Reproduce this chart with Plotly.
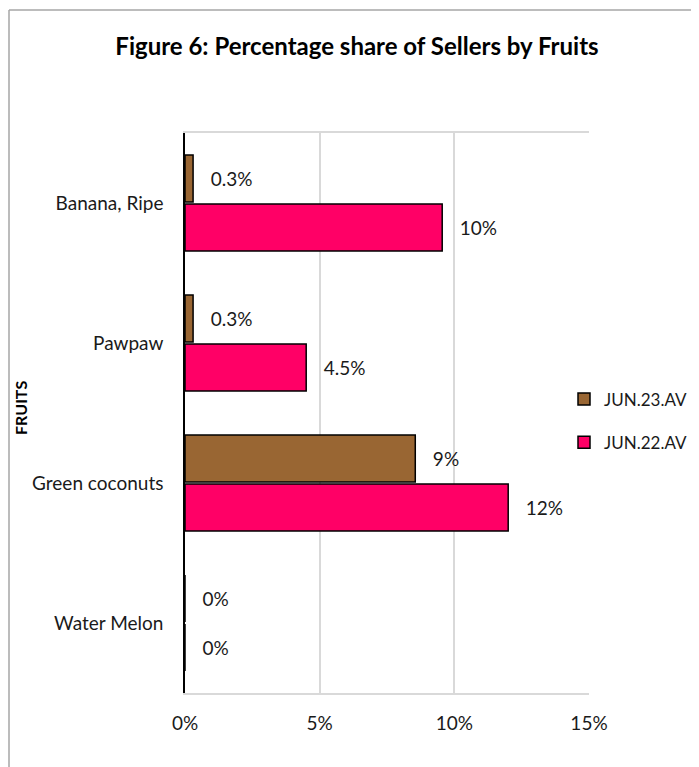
import plotly.graph_objects as go

categories = ["Water Melon", "Green coconuts", "Pawpaw", "Banana, Ripe"]
jun22_values = [0, 12.0, 4.5, 9.55]
jun23_values = [0, 8.55, 0.3, 0.3]
jun22_labels = ["0%", "12%", "4.5%", "10%"]
jun23_labels = ["0%", "9%", "0.3%", "0.3%"]
tick_values = [0, 5, 10, 15]
tick_labels = ["0%", "5%", "10%", "15%"]

FONT = "Lato, 'Open Sans', sans-serif"
PAD = "\u00a0\u00a0\u00a0"

# figure geometry (page has an 8px body margin)
W, H = 691, 759
L, R, T, B = 177, 110, 125, 74
PW, PH = W - L - R, H - T - B

fig = go.Figure()
fig.add_trace(go.Bar(
    y=categories, x=jun22_values, orientation="h", name="JUN.22.AV",
    legendgroup="b", legendrank=2,
    marker=dict(color="#FF0066", line=dict(color="#000000", width=1.5)),
    text=jun22_labels, texttemplate=PAD + "%{text}", textposition="outside", cliponaxis=False,
    textfont=dict(size=19, color="#1a1a1a", family=FONT),
))
fig.add_trace(go.Bar(
    y=categories, x=jun23_values, orientation="h", name="JUN.23.AV",
    legendgroup="a", legendrank=1,
    marker=dict(color="#996633", line=dict(color="#000000", width=1.5)),
    text=jun23_labels, texttemplate=PAD + "%{text}", textposition="outside", cliponaxis=False,
    textfont=dict(size=19, color="#1a1a1a", family=FONT),
))

fig.update_layout(
    width=W, height=H,
    margin=dict(l=L, r=R, t=T, b=B, autoexpand=False),
    paper_bgcolor="white", plot_bgcolor="white",
    barmode="group", bargap=0.3, bargroupgap=0.04,
    font=dict(family=FONT, size=19, color="#1a1a1a"),
    title=dict(text="<b>Figure 6: Percentage share of Sellers by Fruits</b>",
               x=349 / W, xanchor="center", y=1 - 39 / H, yanchor="middle",
               font=dict(size=24, color="#000000", family=FONT)),
    legend=dict(traceorder="grouped", x=(556 - L) / PW, xanchor="left",
                y=(T + PH - 413) / PH, yanchor="middle",
                font=dict(size=17, color="#1a1a1a"), itemwidth=30, tracegroupgap=18,
                borderwidth=0, bgcolor="rgba(0,0,0,0)"),
    showlegend=True,
)
fig.update_xaxes(
    range=[0, 15], tickvals=tick_values, ticktext=tick_labels,
    showgrid=True, gridcolor="#D9D9D9", gridwidth=1.5,
    showline=True, linecolor="#D9D9D9", linewidth=1.5, mirror=True,
    ticks="outside", ticklen=12, tickcolor="rgba(0,0,0,0)",
    zeroline=False, tickfont=dict(size=19),
)
fig.update_yaxes(
    categoryorder="array", categoryarray=categories,
    showline=True, linecolor="#000000", linewidth=1.5,
    ticks="outside", ticklen=16, tickcolor="rgba(0,0,0,0)",
    showgrid=False, tickfont=dict(size=19),
)
fig.add_annotation(text="<b>FRUITS</b>", xref="paper", yref="paper",
                   x=(12 - L) / PW, y=(T + PH - 400) / PH, textangle=-90,
                   showarrow=False, font=dict(size=16, color="#000000"),
                   xanchor="center", yanchor="middle")

# outer chart border (left and top)
bx = (1 - L) / PW
by = (T + PH - 2) / PH
fig.add_shape(type="line", xref="paper", yref="paper",
              x0=bx, x1=bx, y0=by, y1=-B / PH - 0.05,
              line=dict(color="#A6A6A6", width=1.5))
fig.add_shape(type="line", xref="paper", yref="paper",
              x0=bx, x1=(W - L) / PW + 0.05, y0=by, y1=by,
              line=dict(color="#A6A6A6", width=1.5))

fig.write_html("out.html")
